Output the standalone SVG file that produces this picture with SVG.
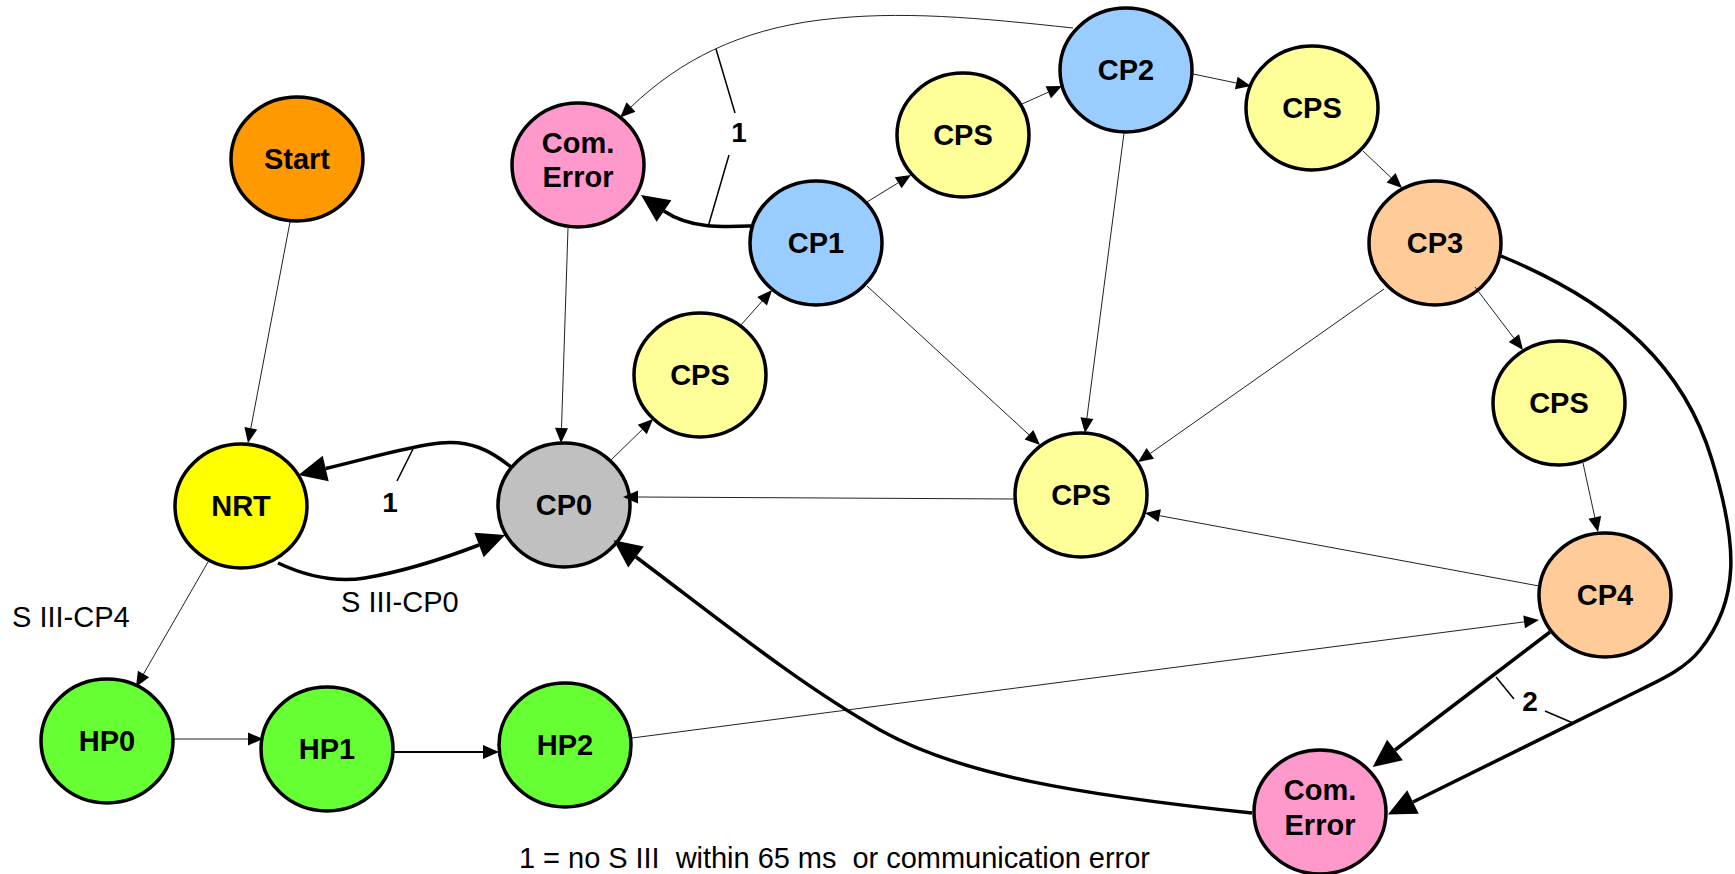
<svg xmlns="http://www.w3.org/2000/svg" width="1735" height="874" viewBox="0 0 1735 874">
  <style>
    .node ellipse { stroke: #000; stroke-width: 3.5; }
    .node text { font-family: "Liberation Sans", Arial, sans-serif; font-weight: bold; font-size: 29px; text-anchor: middle; fill: #000; }
    .start { fill: #FF9900; }
    .err { fill: #FF99CC; }
    .cpb { fill: #99CCFF; }
    .cps { fill: #FFFF99; }
    .cpo { fill: #FFCC99; }
    .nrt { fill: #FFFF00; }
    .cp0 { fill: #C0C0C0; }
    .hp { fill: #66FF33; }
    .thin { fill: none; stroke: #222; stroke-width: 1; marker-end: url(#arrS); }
    .thick { fill: none; stroke: #000; stroke-width: 3.5; marker-end: url(#arrL); }
    .tick { fill: none; stroke: #000; stroke-width: 1.5; }
    .lbl { font-family: "Liberation Sans", Arial, sans-serif; font-size: 29px; fill: #000; }
    .num { font-family: "Liberation Sans", Arial, sans-serif; font-size: 28px; font-weight: bold; text-anchor: middle; fill: #000; }
  </style>
  <defs>
    <marker id="arrS" markerUnits="userSpaceOnUse" markerWidth="15" markerHeight="13" refX="0" refY="6.5" orient="auto" overflow="visible">
      <path d="M0,0 L15,6.5 L0,13 z" fill="#000"/>
    </marker>
    <marker id="arrM" markerUnits="userSpaceOnUse" markerWidth="16" markerHeight="14" refX="0" refY="7" orient="auto" overflow="visible">
      <path d="M0,0 L16,7 L0,14 z" fill="#000"/>
    </marker>
    <marker id="arrL" markerUnits="userSpaceOnUse" markerWidth="28" markerHeight="26" refX="0" refY="13" orient="auto" overflow="visible">
      <path d="M0,0 L28,13 L0,26 z" fill="#000"/>
    </marker>
  </defs>

  <rect width="1735" height="874" fill="#fff"/>

  <!-- states -->
  <g id="start" class="node"><ellipse class="start" cx="297" cy="159" rx="66" ry="62"/><text x="297" y="169">Start</text></g>
  <g id="comerr-top" class="node"><ellipse class="err" cx="578" cy="165" rx="66" ry="62"/><text x="578" y="153">Com.</text><text x="578" y="187">Error</text></g>
  <g id="cp2" class="node"><ellipse class="cpb" cx="1126" cy="70" rx="66" ry="62"/><text x="1126" y="80">CP2</text></g>
  <g id="cps-a" class="node"><ellipse class="cps" cx="963" cy="135" rx="66" ry="62"/><text x="963" y="145">CPS</text></g>
  <g id="cps-b" class="node"><ellipse class="cps" cx="1312" cy="108" rx="66" ry="62"/><text x="1312" y="118">CPS</text></g>
  <g id="cp1" class="node"><ellipse class="cpb" cx="816" cy="243" rx="66" ry="62"/><text x="816" y="253">CP1</text></g>
  <g id="cp3" class="node"><ellipse class="cpo" cx="1435" cy="243" rx="66" ry="62"/><text x="1435" y="253">CP3</text></g>
  <g id="cps-c" class="node"><ellipse class="cps" cx="700" cy="375" rx="66" ry="62"/><text x="700" y="385">CPS</text></g>
  <g id="cps-d" class="node"><ellipse class="cps" cx="1559" cy="403" rx="66" ry="62"/><text x="1559" y="413">CPS</text></g>
  <g id="cps-e" class="node"><ellipse class="cps" cx="1081" cy="495" rx="66" ry="62"/><text x="1081" y="505">CPS</text></g>
  <g id="nrt" class="node"><ellipse class="nrt" cx="241" cy="506" rx="66" ry="62"/><text x="241" y="516">NRT</text></g>
  <g id="cp0" class="node"><ellipse class="cp0" cx="564" cy="505" rx="66" ry="62"/><text x="564" y="515">CP0</text></g>
  <g id="cp4" class="node"><ellipse class="cpo" cx="1605" cy="595" rx="66" ry="62"/><text x="1605" y="605">CP4</text></g>
  <g id="hp0" class="node"><ellipse class="hp" cx="107" cy="741" rx="66" ry="62"/><text x="107" y="751">HP0</text></g>
  <g id="hp1" class="node"><ellipse class="hp" cx="327" cy="749" rx="66" ry="62"/><text x="327" y="759">HP1</text></g>
  <g id="hp2" class="node"><ellipse class="hp" cx="565" cy="745" rx="66" ry="62"/><text x="565" y="755">HP2</text></g>
  <g id="comerr-bottom" class="node"><ellipse class="err" cx="1320" cy="812" rx="66" ry="62"/><text x="1320" y="800">Com.</text><text x="1320" y="835">Error</text></g>

  <!-- transitions -->
  <g id="connectors">
    <path class="thin" d="M290,222 L250.8,428.3"/>
    <path class="thin" d="M568,228 L561.5,428"/>
    <path class="thin" d="M610,461 L642.3,429.5"/>
    <path class="thin" d="M741,325 L762.1,301.2"/>
    <path class="thin" d="M867,202 L898.2,182.8"/>
    <path class="thin" d="M1022,104 L1048.3,92.2"/>
    <path class="thin" d="M1073,28 C980,18 900,10 820,20 C740,30 680,60 631,107"/>
    <path class="thin" d="M1124,133 L1086.9,418.1"/>
    <path class="thin" d="M867,286 L1029,434.8"/>
    <path class="thin" d="M1193,74 L1236.3,83"/>
    <path class="thin" d="M1363,151 L1391.1,177.7"/>
    <path class="thin" d="M1384,289 L1150.3,453.4"/>
    <path class="thin" d="M1475,287 L1513.9,338.1"/>
    <path class="thin" d="M1583,463 L1594.8,517.3"/>
    <path class="thin" d="M1539,586 L1159.7,515.7"/>
    <path class="thin" d="M632,738 L1524.1,621.9"/>
    <path class="thin" d="M1015,499 L638,497"/>
    <path class="thin" d="M208,562 L143.5,674"/>
    <path class="thin" d="M174,739 L248,739"/>
    <path fill="none" stroke="#000" stroke-width="2" marker-end="url(#arrM)" d="M393,752 L483,752"/>

    <path class="thick" d="M752,226 C725,227 690,229 664,211"/>
    <path class="thick" d="M511,467 C490,450 470,440 440,443 C410,446 370,458 325.7,468.5"/>
    <path class="thick" d="M278,563 C310,578 340,582 365,578 C400,572 440,560 479,545"/>
    <path class="thick" d="M1252,813 C1080,795 960,775 880,730 C800,685 720,620 636,557"/>
    <path class="thick" d="M1550,632 L1395,750"/>
    <path class="thick" d="M1501,256 C1620,305 1685,370 1712,460 C1738,545 1740,600 1700,650 C1684,670 1658,681 1640,690 L1413,802"/>

    <!-- condition markers -->
    <path class="tick" d="M716,49 L735,113 M729,155 L708,227"/>
    <path class="tick" d="M413,449 L397,481"/>
    <path class="tick" d="M1496,677 L1514,699 M1545,711 L1573,723"/>
  </g>

  <!-- labels -->
  <text class="num" x="739" y="142">1</text>
  <text class="num" x="390" y="512">1</text>
  <text class="num" x="1530" y="711">2</text>
  <text class="lbl" x="12" y="627">S III-CP4</text>
  <text class="lbl" x="341" y="612">S III-CP0</text>
  <text class="lbl" x="519" y="868" xml:space="preserve" style="white-space:pre" textLength="631" lengthAdjust="spacing">1 = no S III  within 65 ms  or communication error</text>
</svg>
